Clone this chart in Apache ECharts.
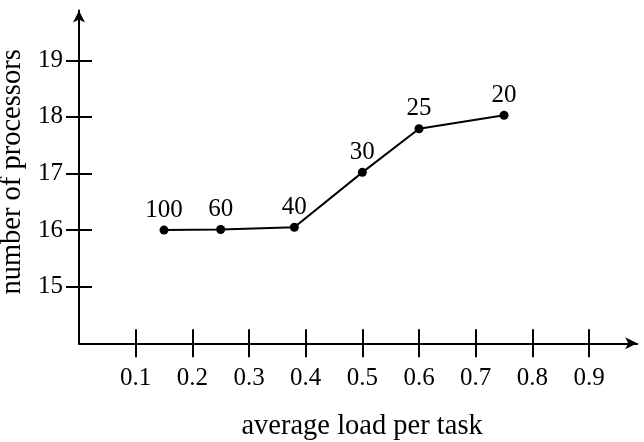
<!DOCTYPE html>
<html>
<head>
<meta charset="utf-8">
<script src="https://cdn.jsdelivr.net/npm/echarts@6/dist/echarts.min.js"></script>
<style>html,body{margin:0;padding:0;background:#fff}#c{width:644px;height:442px}</style>
</head>
<body>
<div id="c"></div>
<script>
var loads = [0.15, 0.25, 0.38, 0.5, 0.6, 0.75];
var processors = [16.0, 16.01, 16.05, 17.02, 17.79, 18.03];
var pointLabels = ['100', '60', '40', '30', '25', '20'];
var xTicks = [0.1, 0.2, 0.3, 0.4, 0.5, 0.6, 0.7, 0.8, 0.9];
var yTicks = [15, 16, 17, 18, 19];

var FONT = 'Liberation Serif';
var FS = 25;
var NAME_FS = 28.5;
var chart = echarts.init(document.getElementById('c'), null, {renderer: 'canvas'});
var data = loads.map(function (x, i) { return [x, processors[i], pointLabels[i]]; });
var xMin = 0, xMax = 0.985, yMin = 14, yMax = 19.88;
chart.setOption({
  animation: false,
  backgroundColor: '#fff',
  grid: {left: 79, top: 10.5, width: 558.2, height: 332.8, containLabel: false, outerBoundsMode: 'none'},
  xAxis: [{
    type: 'value', min: xMin, max: xMax, position: 'bottom',
    name: 'average load per task', nameLocation: 'middle', nameGap: 69,
    nameTextStyle: {fontFamily: FONT, fontSize: NAME_FS, color: '#000', padding: [0, 0, 0, 8]},
    axisLine: {show: true, onZero: false, symbol: ['none', 'arrow'], symbolSize: [9, 12], lineStyle: {color: '#000', width: 2}},
    axisTick: {show: true, inside: false, length: 14, customValues: xTicks, lineStyle: {color: '#000', width: 2}},
    axisLabel: {show: true, margin: 23, customValues: xTicks, fontFamily: FONT, fontSize: FS, color: '#000', formatter: function (v) { return v.toFixed(1); }},
    splitLine: {show: false}
  }, {
    type: 'value', min: xMin, max: xMax, position: 'bottom',
    axisLine: {show: false, onZero: false},
    axisTick: {show: true, inside: true, length: 14, customValues: xTicks, lineStyle: {color: '#000', width: 2}},
    axisLabel: {show: false},
    splitLine: {show: false}
  }],
  yAxis: [{
    type: 'value', min: yMin, max: yMax, position: 'left',
    name: 'number of processors', nameLocation: 'middle', nameGap: 38, nameRotate: 90,
    nameTextStyle: {fontFamily: FONT, fontSize: NAME_FS, color: '#000', padding: [0, 0, 0, 10]},
    axisLine: {show: true, onZero: false, symbol: ['none', 'arrow'], symbolSize: [9, 12], lineStyle: {color: '#000', width: 2}},
    axisTick: {show: true, inside: false, length: 13, customValues: yTicks, lineStyle: {color: '#000', width: 2}},
    axisLabel: {show: true, margin: 16, customValues: yTicks, fontFamily: FONT, fontSize: FS, color: '#000'},
    splitLine: {show: false}
  }, {
    type: 'value', min: yMin, max: yMax, position: 'left',
    axisLine: {show: false, onZero: false},
    axisTick: {show: true, inside: true, length: 13, customValues: yTicks, lineStyle: {color: '#000', width: 2}},
    axisLabel: {show: false},
    splitLine: {show: false}
  }],
  series: [{
    type: 'line', xAxisIndex: 0, yAxisIndex: 0,
    data: data,
    symbol: 'circle', symbolSize: 9,
    lineStyle: {color: '#000', width: 2},
    itemStyle: {color: '#000'},
    label: {show: true, position: 'top', distance: 3, fontFamily: FONT, fontSize: FS, color: '#000',
      formatter: function (p) { return p.data[2]; }},
    emphasis: {disabled: true}
  }]
});
</script>
</body>
</html>
